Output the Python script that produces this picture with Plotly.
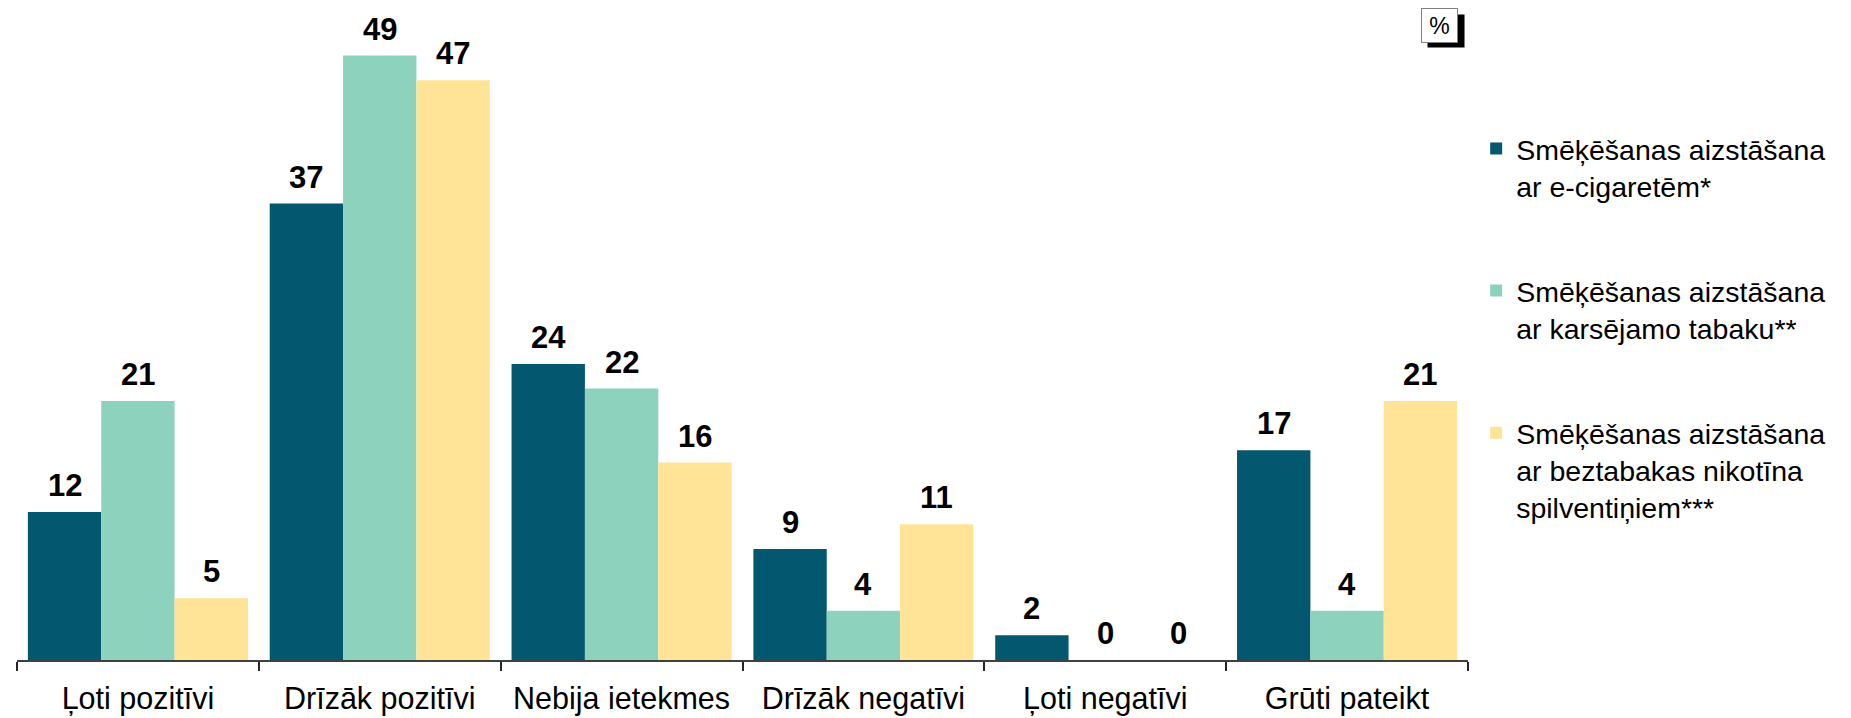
import plotly.graph_objects as go

categories = ["Ļoti pozitīvi", "Drīzāk pozitīvi", "Nebija ietekmes",
              "Drīzāk negatīvi", "Ļoti negatīvi", "Grūti pateikt"]
series_names = [
    "Smēķēšanas aizstāšana<br>ar e-cigaretēm*",
    "Smēķēšanas aizstāšana<br>ar karsējamo tabaku**",
    "Smēķēšanas aizstāšana<br>ar beztabakas nikotīna<br>spilventiņiem***",
]
ecig = [12, 37, 24, 9, 2, 17]
heated = [21, 49, 22, 4, 0, 4]
pouches = [5, 47, 16, 11, 0, 21]
colors = ["#03576F", "#8DD2BC", "#FFE497"]

values = [ecig, heated, pouches]
FONT = "Arial, Liberation Sans, sans-serif"
BARGAP = 0.09

fig = go.Figure()
for k, (name, vals, col) in enumerate(zip(series_names, values, colors)):
    fig.add_trace(go.Bar(
        x=categories, y=vals, name=name, marker_color=col,
        marker_line_width=0, legendgroup=f"g{k}",
    ))

# data labels
w = (1 - BARGAP) / 3
for k, vals in enumerate(values):
    for i, v in enumerate(vals):
        fig.add_annotation(
            x=i + (k - 1) * w, y=v, xref="x", yref="y",
            text=f"<b>{v}</b>", showarrow=False, yanchor="bottom",
            yshift=7, font=dict(family=FONT, size=31, color="#000000"),
        )

# "%" box with drop shadow
fig.add_shape(type="rect", xref="paper", yref="paper",
              x0=0.9721, x1=0.9976, y0=0.928, y1=0.978,
              fillcolor="#000000", line=dict(width=0), layer="above")
fig.add_annotation(
    x=0.9807, y=0.962, xref="paper", yref="paper", text="%",
    showarrow=False, xanchor="center", yanchor="middle",
    width=35, height=33, bgcolor="#FFFFFF", bordercolor="#7F7F7F",
    borderwidth=1, borderpad=0,
    font=dict(family=FONT, size=23, color="#000000"),
)

fig.update_layout(
    width=1851, height=718,
    margin=dict(l=17, r=383, t=0, b=58),
    paper_bgcolor="white", plot_bgcolor="white",
    barmode="group", bargap=BARGAP, bargroupgap=0,
    font=dict(family=FONT, color="#000000"),
    showlegend=True,
    legend=dict(
        xref="container", yref="container", x=0.7975, y=0.828,
        xanchor="left", yanchor="top", valign="top",
        font=dict(family=FONT, size=28.5, color="#000000"),
        tracegroupgap=65, bgcolor="rgba(0,0,0,0)", maxheight=650,
    ),
    xaxis=dict(
        type="category", showgrid=False, showline=True,
        linecolor="#404040", linewidth=1.5, ticks="outside",
        tickson="boundaries", ticklen=9, tickcolor="#262626", tickwidth=1.5,
        tickfont=dict(family=FONT, size=30.5, color="#000000"),
        ticklabelstandoff=11, range=[-0.5, 5.5],
    ),
    yaxis=dict(range=[0, 53.5], visible=False, showgrid=False),
)

fig.write_html("out.html", config={"displayModeBar": False},
               post_script="document.body.style.margin='0';")
